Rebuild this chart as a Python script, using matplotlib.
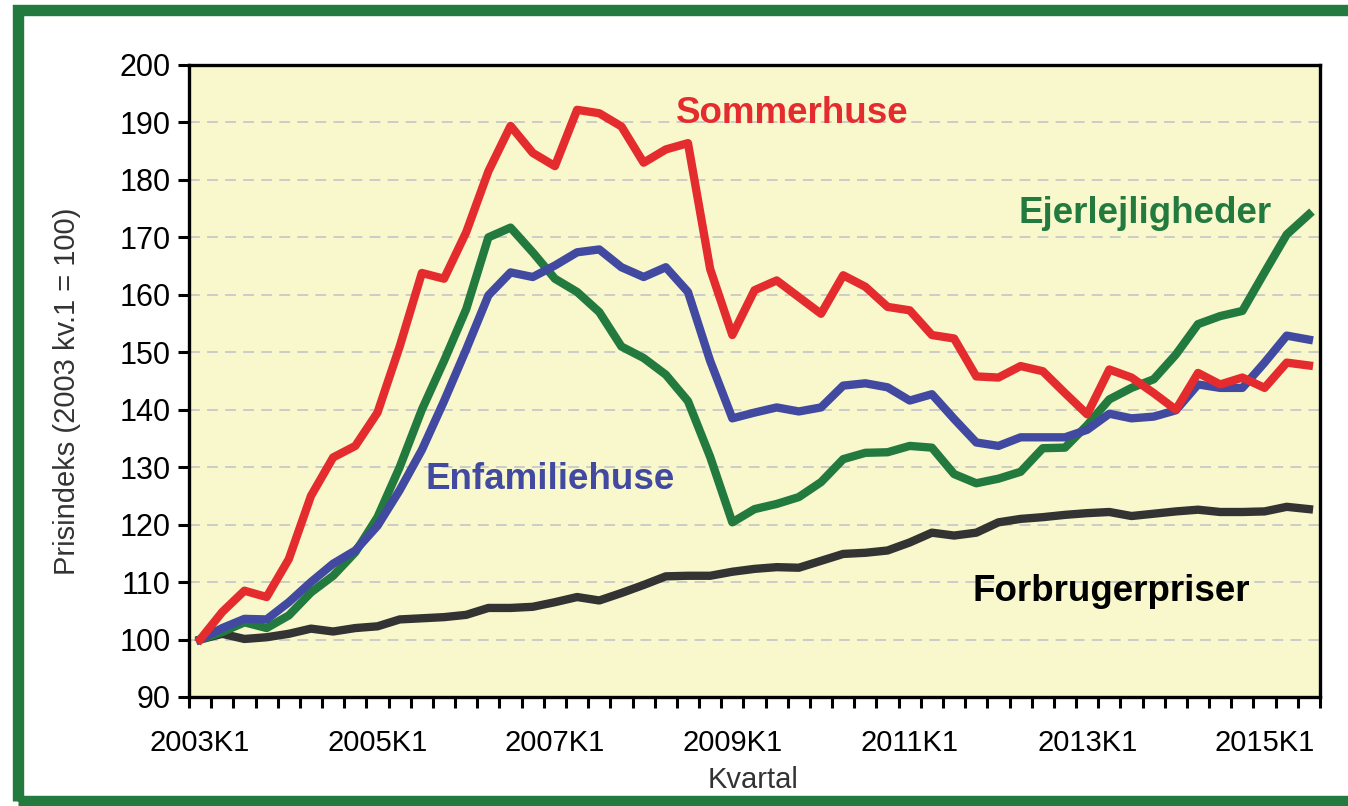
import matplotlib.pyplot as plt
from matplotlib.patches import Rectangle

plt.rcParams['font.family'] = ['Liberation Sans', 'DejaVu Sans']

# ── Data: quarterly price index, 2003K1 = 100 ────────────────────────────────
years = list(range(2003, 2016))
quarters = [f'{y}K{q}' for y in years for q in (1, 2, 3, 4)][:51]   # 2003K1 .. 2015K3

sommerhuse = [100, 104.8, 108.5, 107.4, 114.0, 125.0, 131.7, 133.7, 139.5, 151.0,
              163.8, 162.8, 170.9, 181.5, 189.4, 184.7, 182.4, 192.2, 191.6, 189.3,
              183.0, 185.3, 186.4, 164.5, 153.0, 160.8, 162.5, 159.6, 156.7, 163.4,
              161.4, 157.9, 157.3, 153.0, 152.4, 145.8, 145.6, 147.6, 146.7, 142.9,
              139.2, 147.0, 145.6, 142.9, 140.0, 146.4, 144.4, 145.6, 143.8, 148.2,
              147.7]

enfamiliehuse = [100, 102.0, 103.6, 103.5, 106.5, 110.0, 113.2, 115.5, 119.8, 126.0,
                 133.0, 141.5, 150.5, 159.9, 163.9, 163.1, 165.1, 167.4, 167.9, 164.8,
                 163.1, 164.8, 160.5, 148.5, 138.5, 139.5, 140.4, 139.7, 140.4, 144.2,
                 144.6, 143.9, 141.6, 142.7, 138.4, 134.3, 133.7, 135.2, 135.2, 135.2,
                 136.5, 139.3, 138.5, 138.8, 139.9, 144.4, 143.8, 143.8, 148.2, 152.9,
                 152.2]

ejerlejligheder = [100, 101.3, 103.0, 102.0, 104.2, 108.2, 111.1, 115.2, 121.3, 130.0,
                   140.0, 148.5, 157.5, 170.0, 171.7, 167.4, 162.8, 160.5, 157.0, 151.0,
                   149.0, 146.1, 141.5, 131.8, 120.4, 122.7, 123.6, 124.8, 127.4, 131.4,
                   132.5, 132.6, 133.7, 133.4, 128.8, 127.2, 128.0, 129.2, 133.3, 133.4,
                   137.3, 141.8, 143.8, 145.3, 149.6, 154.9, 156.3, 157.2, 163.9, 170.5,
                   174.0]

forbrugerpriser = [100, 101.0, 100.1, 100.4, 101.0, 101.9, 101.4, 102.0, 102.3, 103.5,
                   103.7, 103.9, 104.3, 105.5, 105.5, 105.7, 106.5, 107.4, 106.8, 108.1,
                   109.5, 111.0, 111.1, 111.1, 111.8, 112.3, 112.6, 112.5, 113.7, 114.9,
                   115.1, 115.5, 116.9, 118.6, 118.1, 118.6, 120.4, 121.0, 121.3, 121.7,
                   122.0, 122.2, 121.5, 121.9, 122.3, 122.6, 122.2, 122.2, 122.3, 123.1,
                   122.7]

RED, BLUE, GREEN, BLACK = '#e42c2f', '#4149a0', '#237a3f', '#333333'
W, H = 1348, 806

# ── Figure ───────────────────────────────────────────────────────────────────
fig = plt.figure(figsize=(W / 100, H / 100), dpi=100)
fig.patch.set_facecolor('white')
ax = fig.add_axes([189/W, 1 - 697/H, (1320 - 189)/W, (697 - 65)/H])
ax.set_facecolor('#f8f8cc')

x = list(range(len(quarters)))
ax.plot(x, forbrugerpriser, color=BLACK, lw=6, solid_joinstyle='round', zorder=3)
ax.plot(x, ejerlejligheder, color=GREEN, lw=6, solid_joinstyle='round', zorder=4)
ax.plot(x, enfamiliehuse, color=BLUE, lw=6, solid_joinstyle='round', zorder=5)
ax.plot(x, sommerhuse, color=RED, lw=6, solid_joinstyle='round', zorder=6)

ax.set_xlim(-0.5, len(quarters) - 0.5)
ax.set_ylim(90, 200)
ax.set_yticks(range(90, 201, 10))
for v in range(100, 200, 10):
    ax.axhline(v, color='#c8c8c8', lw=1.3, ls=(0, (6, 4)), zorder=1)

# category-boundary ticks, labels every 8th quarter
ax.set_xticks([i - 0.5 for i in range(len(quarters) + 1)])
ax.set_xticklabels([])
ax.set_xticks(x[::8], minor=True)
ax.set_xticklabels(quarters[::8], minor=True)
ax.tick_params(axis='x', which='major', direction='out', length=8, width=2.2)
ax.tick_params(axis='x', which='minor', length=0, pad=23, labelsize=21)
ax.tick_params(axis='y', direction='out', length=8, width=2.2, labelsize=22, pad=5)

for s in ax.spines.values():
    s.set_linewidth(2.4)
    s.set_color('black')

fig.text(67/W, 1 - 391/H, 'Prisindeks (2003 kv.1 = 100)', rotation=90,
         fontsize=21, color='#333333', ha='center', va='center')
fig.text(753/W, 1 - 780/H, 'Kvartal', fontsize=21, color='#333333',
         ha='center', va='center')

# series labels
lab = dict(fontsize=26.5, fontweight='bold', ha='center', va='center')
ax.text(26.7, 191.6, 'Sommerhuse', color=RED, **lab)
ax.text(42.6, 174.2, 'Ejerlejligheder', color=GREEN, **lab)
ax.text(15.8, 127.8, 'Enfamiliehuse', color=BLUE, **lab)
ax.text(41.1, 108.3, 'Forbrugerpriser', color='black', **lab)

# green frame (open on the right, as in the source image)
fig.add_artist(Rectangle((18/W, 1 - 800.5/H), 1.05, (800.5 - 9.5)/H,
                         transform=fig.transFigure, fill=False,
                         edgecolor=GREEN, lw=8.2, clip_on=False))

fig.savefig('out.png', dpi=100, facecolor=fig.get_facecolor())
